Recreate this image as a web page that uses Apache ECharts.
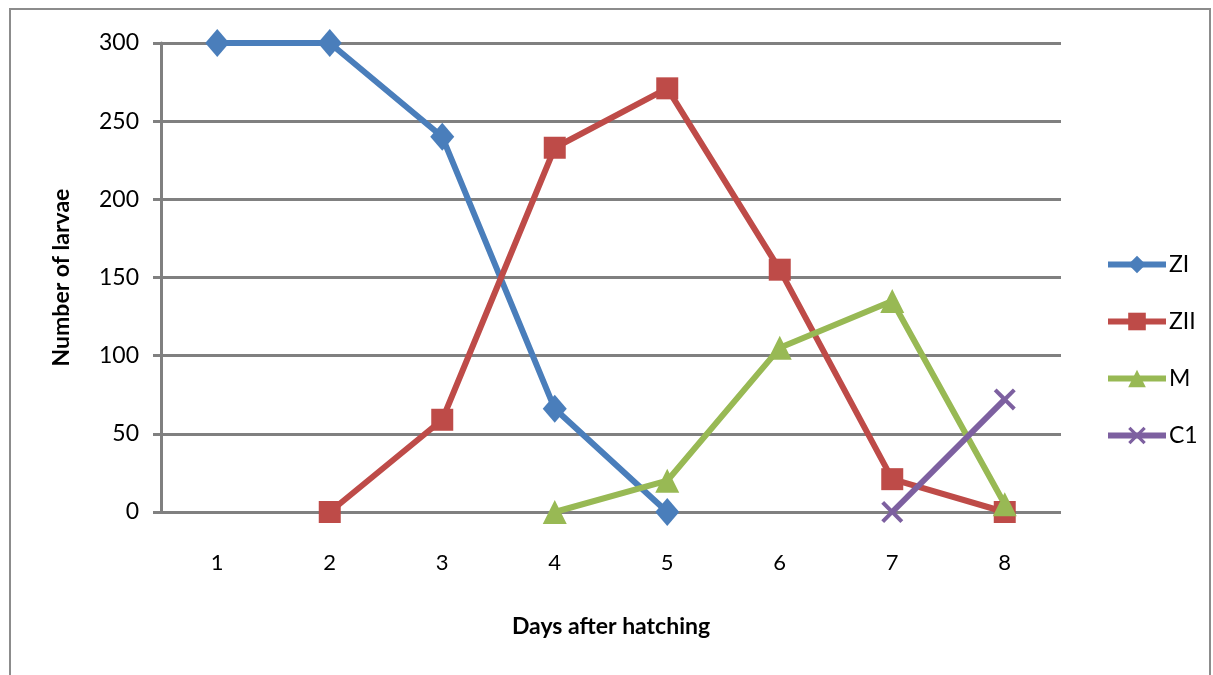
<!DOCTYPE html>
<html><head><meta charset="utf-8">
<script src="https://cdn.jsdelivr.net/npm/echarts@6/dist/echarts.min.js"></script>
<style>html,body{margin:0;padding:0;background:#fff}#c{width:1213px;height:675px}</style>
</head><body><div id="c"></div>
<script>
var days = ['1','2','3','4','5','6','7','8'];
var yTicks = [0, 50, 100, 150, 200, 250, 300];
var ZI  = [300, 300, 240, 66, 0, null, null, null];
var ZII = [null, 0, 59, 233, 271, 155, 21, 0];
var M   = [null, null, null, 0, 20, 105, 135, 5];
var C1  = [null, null, null, null, null, null, 0, 72];

var xPath = 'path://M1.3,0 L5,3.7 L8.7,0 L10,1.3 L6.3,5 L10,8.7 L8.7,10 L5,6.3 L1.3,10 L0,8.7 L3.7,5 L0,1.3 Z';
var font = 'Lato, "Open Sans", sans-serif';
function mk(name, data, color, symbol, size) {
  return {name: name, type: 'line', data: data, symbol: symbol, symbolSize: size,
    connectNulls: false, lineStyle: {color: color, width: 6},
    itemStyle: {color: color}, emphasis: {disabled: true}};
}
var chart = echarts.init(document.getElementById('c'));
chart.setOption({
  animation: false,
  textStyle: {fontFamily: font},
  graphic: [{type: 'rect', shape: {x: 10, y: 9, width: 1200, height: 700},
    style: {fill: 'none', stroke: '#8c8c8c', lineWidth: 2}, z: -1}],
  grid: {left: 161, right: 152, top: 43, bottom: 163},
  legend: {orient: 'vertical', left: 1100, top: 248, itemWidth: 58, itemHeight: 22, itemGap: 34,
    lineStyle: {width: 6},
    textStyle: {fontSize: 23, color: '#000', fontFamily: font, padding: [0, 0, 0, -2]},
    data: ['ZI', 'ZII', 'M', 'C1']},
  xAxis: {type: 'category', data: days, boundaryGap: true,
    name: 'Days after hatching', nameLocation: 'middle', nameGap: 103,
    nameTextStyle: {fontSize: 23, fontWeight: 'bold', color: '#000', fontFamily: font},
    axisLine: {show: false}, axisTick: {show: false},
    axisLabel: {fontSize: 22, color: '#000', margin: 40, fontFamily: font}},
  yAxis: {type: 'value', min: 0, max: 300, interval: 50,
    name: 'Number of larvae', nameLocation: 'middle', nameGap: 88, nameRotate: 90,
    nameTextStyle: {fontSize: 23, fontWeight: 'bold', color: '#000', fontFamily: font},
    axisLine: {show: true, lineStyle: {color: '#808080', width: 3}},
    axisTick: {show: true, length: 8, lineStyle: {color: '#808080', width: 3}},
    splitLine: {show: true, lineStyle: {color: '#808080', width: 3}},
    axisLabel: {fontSize: 23, color: '#000', margin: 22, fontFamily: font,
      formatter: function (v) { return yTicks.indexOf(v) >= 0 ? String(v) : ''; }}},
  series: [
    mk('ZI', ZI, '#4A7EBB', 'diamond', [24, 28]),
    mk('ZII', ZII, '#BE4B48', 'rect', 22),
    mk('M', M, '#98B954', 'triangle', 24),
    mk('C1', C1, '#7D60A0', xPath, 22)
  ]
});
</script></body></html>
